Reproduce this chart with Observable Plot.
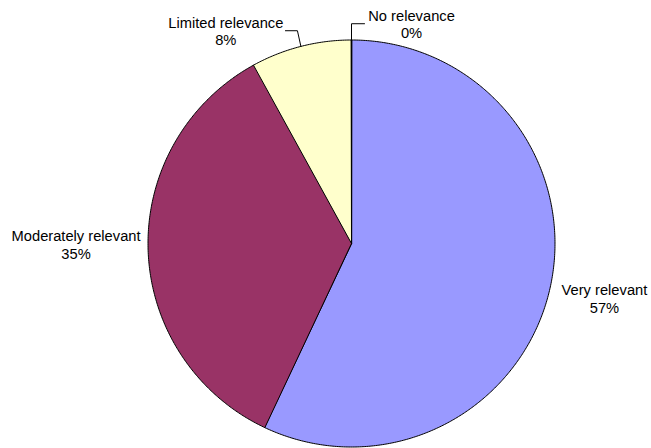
<!DOCTYPE html>
<html>
<head>
<meta charset="utf-8">
<script src="https://cdn.jsdelivr.net/npm/d3@7"></script>
<script src="https://cdn.jsdelivr.net/npm/@observablehq/plot@0.6"></script>
<style>
  html, body { margin: 0; padding: 0; background: #ffffff; }
  #chart { width: 651px; height: 448px; }
</style>
</head>
<body>
<div id="chart"></div>
<script>
// ---- data ----
const categories = ["Very relevant", "Moderately relevant", "Limited relevance", "No relevance"];
const shares = [57, 35, 8, 0];
const percentLabels = ["57%", "35%", "8%", "0%"];
const sliceColors = ["#9999FF", "#993366", "#FFFFCC", "#CCFFFF"];

// ---- label layout (offsets from slice mid-point, in radius units) ----
const labelOffsetX = [0.267, -0.354, -0.369, 0.295];
const labelOffsetY = [-0.049, 0.027, 0.077, 0.080];
// leader lines: [elbowDx, elbowDy, endDx, endDy] or null
const leaders = [null, null, [-0.017, 0.077, -0.076, 0.077], [0, 0.080, 0.064, 0.080]];

// ---- geometry from the data ----
const total = d3.sum(shares);
let acc = 0;
const slices = categories.map((c, i) => {
  const a0 = acc / total * 2 * Math.PI;
  acc += shares[i];
  const a1 = acc / total * 2 * Math.PI;
  return {c, i, a0, a1, mid: (a0 + a1) / 2};
});

const piePoints = slices.flatMap(s => {
  const n = Math.max(1, Math.ceil((s.a1 - s.a0) / (Math.PI / 360)));
  const arr = [{c: s.c, x: 0, y: 0}];
  for (let k = 0; k <= n; k++) {
    const a = s.a0 + (s.a1 - s.a0) * k / n;
    arr.push({c: s.c, x: Math.sin(a), y: Math.cos(a)});
  }
  return arr;
});

const labels = slices.map(s => ({
  text: s.c + "\n" + percentLabels[s.i],
  x: Math.sin(s.mid) + labelOffsetX[s.i],
  y: Math.cos(s.mid) + labelOffsetY[s.i]
}));

const leaderPoints = slices.flatMap(s => {
  const L = leaders[s.i];
  if (!L) return [];
  const px = Math.sin(s.mid), py = Math.cos(s.mid);
  return [
    {c: s.c, x: px, y: py},
    {c: s.c, x: px + L[0], y: py + L[1]},
    {c: s.c, x: px + L[2], y: py + L[3]}
  ];
});

const cx = 351, cy = 243, r = 203.5;

const chart = Plot.plot({
  width: 651,
  height: 448,
  margin: 0,
  style: {background: "#ffffff", fontFamily: "'Liberation Sans', Arial, sans-serif"},
  x: {domain: [-1, 1], range: [cx - r, cx + r], axis: null},
  y: {domain: [-1, 1], range: [cy + r, cy - r], axis: null},
  color: {domain: categories, range: sliceColors},
  marks: [
    Plot.line(piePoints, {
      x: "x", y: "y", z: "c", fill: "c",
      stroke: "#000000", strokeWidth: 1, strokeLinejoin: "round",
      curve: "linear-closed"
    }),
    Plot.line(leaderPoints, {x: "x", y: "y", z: "c", stroke: "#000000", strokeWidth: 1}),
    Plot.text(labels, {
      x: "x", y: "y", text: "text",
      fontSize: 14.7, lineHeight: 1.22, fill: "#000000", textAnchor: "middle"
    })
  ]
});

document.getElementById("chart").appendChild(chart);
</script>
</body>
</html>
